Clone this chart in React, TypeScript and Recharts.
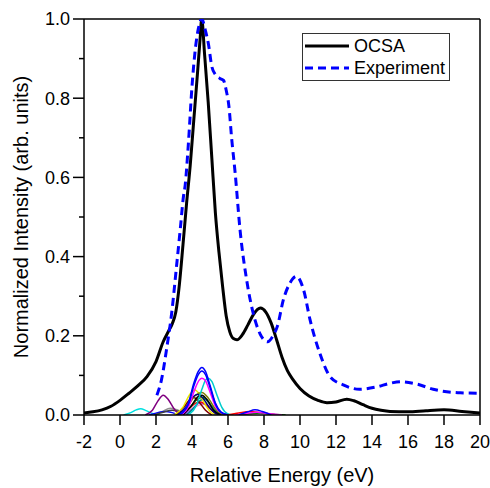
import React from 'react';
import { LineChart, Line, XAxis, YAxis, Legend, ReferenceLine } from 'recharts';

type Pt = [number, number];

// OCSA total spectrum (energy in eV, normalized intensity)
const OCSA: Pt[] = [
  [-2, 0.005], [-1.5, 0.008], [-1, 0.013], [-0.5, 0.022], [0, 0.037], [0.5, 0.055],
  [1, 0.074], [1.5, 0.097], [2, 0.135], [2.4, 0.185], [2.7, 0.212], [2.9, 0.23],
  [3.1, 0.26], [3.3, 0.33], [3.5, 0.43], [3.7, 0.535], [3.9, 0.63], [4.1, 0.745],
  [4.3, 0.86], [4.45, 0.95], [4.54, 1.0], [4.7, 0.91], [4.9, 0.79], [5.1, 0.65],
  [5.3, 0.51], [5.5, 0.41], [5.7, 0.325], [5.9, 0.25], [6.1, 0.21], [6.3, 0.193],
  [6.5, 0.19], [6.8, 0.203], [7.1, 0.227], [7.4, 0.253], [7.8, 0.27], [8.1, 0.26],
  [8.4, 0.232], [8.7, 0.19], [9.0, 0.146], [9.3, 0.112], [9.6, 0.09], [10, 0.067],
  [10.5, 0.048], [11, 0.037], [11.5, 0.031], [12, 0.033], [12.6, 0.04], [13, 0.036],
  [13.5, 0.026], [14, 0.017], [14.5, 0.012], [15, 0.009], [16, 0.008], [17, 0.011],
  [18, 0.013], [19, 0.009], [20, 0.005],
];

// measured spectrum
const EXPERIMENT: Pt[] = [
  [2.05, 0.05], [2.3, 0.088], [2.6, 0.17], [2.87, 0.257], [3.15, 0.38], [3.35, 0.47],
  [3.52, 0.55], [3.62, 0.58], [3.8, 0.686], [4.0, 0.83], [4.2, 0.93], [4.35, 0.975],
  [4.54, 1.0], [4.75, 0.97], [4.92, 0.935], [5.1, 0.88], [5.3, 0.86], [5.55, 0.85],
  [5.75, 0.845], [5.9, 0.82], [6.05, 0.78], [6.2, 0.7], [6.4, 0.61], [6.67, 0.467],
  [7.04, 0.34], [7.4, 0.257], [7.78, 0.205], [8.2, 0.185], [8.5, 0.2], [8.75, 0.225],
  [9.07, 0.29], [9.44, 0.333], [9.8, 0.35], [10.2, 0.316], [10.56, 0.24], [11.1, 0.156],
  [11.67, 0.097], [12.4, 0.076], [13.3, 0.065], [14.26, 0.071], [15, 0.08], [15.6, 0.084],
  [16.5, 0.078], [17.4, 0.065], [18.9, 0.056], [20, 0.055],
];

// individual transition components
const C_BLUE_A: Pt[] = [[3.3, 0], [3.8, 0.03], [4.1, 0.08], [4.35, 0.11], [4.55, 0.12], [4.75, 0.11], [5.0, 0.075], [5.3, 0.03], [5.6, 0.008], [6.0, 0]];
const C_BLUE_B: Pt[] = [[3.3, 0], [3.8, 0.027], [4.1, 0.073], [4.35, 0.102], [4.55, 0.111], [4.75, 0.102], [5.0, 0.07], [5.3, 0.028], [5.6, 0.007], [6.0, 0]];
const C_MAGENTA: Pt[] = [[3.4, 0], [3.85, 0.025], [4.15, 0.064], [4.4, 0.088], [4.55, 0.093], [4.75, 0.086], [5.0, 0.058], [5.3, 0.022], [5.7, 0.004], [6.0, 0]];
const C_CYAN: Pt[] = [[3.8, 0], [4.25, 0.025], [4.55, 0.065], [4.75, 0.088], [4.9, 0.093], [5.1, 0.085], [5.35, 0.055], [5.65, 0.02], [5.95, 0.004], [6.3, 0]];
const C_YELLOW: Pt[] = [[3.0, 0], [3.5, 0.02], [3.85, 0.05], [4.15, 0.063], [4.45, 0.05], [4.75, 0.025], [5.1, 0.005], [5.4, 0]];
const C_OLIVE: Pt[] = [[3.3, 0], [3.8, 0.025], [4.2, 0.05], [4.55, 0.057], [4.9, 0.043], [5.25, 0.018], [5.6, 0.003], [5.9, 0]];
const C_NAVY: Pt[] = [[3.2, 0], [3.7, 0.022], [4.0, 0.043], [4.3, 0.052], [4.6, 0.043], [4.95, 0.02], [5.3, 0.004], [5.6, 0]];
const C_DARKRED: Pt[] = [[3.1, 0], [3.55, 0.02], [3.9, 0.04], [4.1, 0.044], [4.4, 0.032], [4.75, 0.012], [5.1, 0]];
const C_GREEN: Pt[] = [[3.4, 0], [3.9, 0.02], [4.3, 0.04], [4.6, 0.045], [4.9, 0.033], [5.25, 0.012], [5.6, 0]];
const C_RED: Pt[] = [[3.3, 0], [3.8, 0.015], [4.2, 0.03], [4.5, 0.033], [4.85, 0.022], [5.2, 0.008], [5.6, 0]];
const C_BLACK: Pt[] = [[3.5, 0], [3.95, 0.022], [4.3, 0.045], [4.55, 0.05], [4.85, 0.038], [5.2, 0.012], [5.6, 0]];
const C_TEAL: Pt[] = [[3.7, 0], [4.15, 0.02], [4.5, 0.038], [4.75, 0.04], [5.05, 0.025], [5.4, 0.006], [5.8, 0]];
const C_PINK: Pt[] = [[3.4, 0], [3.9, 0.012], [4.4, 0.025], [4.8, 0.027], [5.2, 0.016], [5.7, 0.004], [6.2, 0]];
const C_VIOLET: Pt[] = [[3.5, 0], [4.0, 0.015], [4.4, 0.03], [4.7, 0.028], [5.1, 0.012], [5.5, 0]];
const C_PURPLE: Pt[] = [[1.4, 0], [1.8, 0.012], [2.1, 0.035], [2.4, 0.05], [2.7, 0.038], [3.0, 0.016], [3.3, 0.003], [3.6, 0]];
const C_CYAN_LOW: Pt[] = [[0.2, 0], [0.6, 0.006], [0.9, 0.013], [1.15, 0.016], [1.45, 0.011], [1.8, 0.004], [2.2, 0]];
const C_GRAY: Pt[] = [[1.8, 0], [2.3, 0.008], [2.8, 0.017], [3.2, 0.013], [3.6, 0.004], [4.0, 0]];
const C_BLUE_LOW: Pt[] = [[1.6, 0], [2.1, 0.006], [2.5, 0.009], [2.9, 0.006], [3.3, 0]];
const C_BLACK_LOW: Pt[] = [[1.9, 0], [2.4, 0.007], [2.9, 0.012], [3.4, 0.008], [3.9, 0]];
const C_BLUE_HIGH: Pt[] = [[6.6, 0], [7.1, 0.008], [7.5, 0.013], [7.9, 0.009], [8.4, 0]];
const C_RED_HIGH: Pt[] = [[6.0, 0], [6.6, 0.005], [7.2, 0.009], [7.8, 0.006], [8.4, 0.002], [9.0, 0]];
const C_MAGENTA_HIGH: Pt[] = [[6.4, 0], [7.0, 0.004], [7.6, 0.007], [8.2, 0.004], [9.0, 0]];
const C_GREEN_HIGH: Pt[] = [[6.5, 0], [7.2, 0.003], [7.8, 0.005], [8.5, 0.002], [9.2, 0]];

const COMPONENTS: { pts: Pt[]; color: string }[] = [
  { pts: C_CYAN_LOW, color: '#00e0e0' },
  { pts: C_GRAY, color: '#909090' },
  { pts: C_BLUE_LOW, color: '#0000ff' },
  { pts: C_BLACK_LOW, color: '#404040' },
  { pts: C_PURPLE, color: '#800080' },
  { pts: C_PINK, color: '#ff99cc' },
  { pts: C_VIOLET, color: '#9966ff' },
  { pts: C_RED, color: '#ff0000' },
  { pts: C_GREEN, color: '#008000' },
  { pts: C_TEAL, color: '#008080' },
  { pts: C_DARKRED, color: '#800000' },
  { pts: C_YELLOW, color: '#e6e600' },
  { pts: C_OLIVE, color: '#808000' },
  { pts: C_NAVY, color: '#000080' },
  { pts: C_BLACK, color: '#000000' },
  { pts: C_CYAN, color: '#00cccc' },
  { pts: C_MAGENTA, color: '#ff00ff' },
  { pts: C_BLUE_B, color: '#0000ff' },
  { pts: C_BLUE_A, color: '#0000ff' },
  { pts: C_RED_HIGH, color: '#ff0000' },
  { pts: C_GREEN_HIGH, color: '#008000' },
  { pts: C_MAGENTA_HIGH, color: '#ff00ff' },
  { pts: C_BLUE_HIGH, color: '#0000ff' },
];

const X_TICKS = [-2, 0, 2, 4, 6, 8, 10, 12, 14, 16, 18, 20];
const Y_TICKS = [0, 0.1, 0.2, 0.3, 0.4, 0.5, 0.6, 0.7, 0.8, 0.9, 1.0];
const LEGEND_ORDER = ['OCSA', 'Experiment'];

const FONT = 'Arial, "Liberation Sans", sans-serif';
const PLOT_LEFT = 84;

const toRows = (pts: Pt[]) => pts.map(([x, y]) => ({ x, y }));

const YTick = (props: any) => {
  const { y, payload } = props;
  const v = payload.value as number;
  const major = Math.round(v * 10) % 2 === 0;
  return (
    <g>
      <line x1={PLOT_LEFT - (major ? 11 : 5)} x2={PLOT_LEFT} y1={y} y2={y} stroke="#000" strokeWidth={1.5} />
      {major && (
        <text x={PLOT_LEFT - 14} y={y} dy="0.35em" textAnchor="end" fontSize={18} fontFamily={FONT} fill="#000">
          {v.toFixed(1)}
        </text>
      )}
    </g>
  );
};

const LegendBox = (props: any) => {
  const items = (props.payload || [])
    .filter((p: any) => LEGEND_ORDER.includes(p.value))
    .sort((a: any, b: any) => LEGEND_ORDER.indexOf(a.value) - LEGEND_ORDER.indexOf(b.value));
  return (
    <div
      style={{
        border: '1px solid #333',
        background: '#fff',
        padding: '1px 4px 1px 2px',
        fontFamily: FONT,
        fontSize: 18,
        lineHeight: '22px',
      }}
    >
      {items.map((it: any) => (
        <div key={it.value} style={{ display: 'flex', alignItems: 'center' }}>
          <svg width={44} height={10} style={{ marginRight: 5 }}>
            <line
              x1={0}
              x2={44}
              y1={5}
              y2={5}
              stroke={it.color}
              strokeWidth={3}
              strokeDasharray={it.payload?.strokeDasharray}
            />
          </svg>
          <span style={{ color: '#000' }}>{it.value}</span>
        </div>
      ))}
    </div>
  );
};

export default function App() {
  return (
    <div style={{ position: 'absolute', left: 0, top: 0, width: 490, height: 488, background: '#fff' }}>
      <LineChart width={490} height={488} margin={{ top: 19, right: 10, bottom: 13, left: 0 }}>
        <XAxis
          type="number"
          dataKey="x"
          domain={[-2, 20]}
          ticks={X_TICKS}
          allowDataOverflow
          height={60}
          tickSize={10}
          tickMargin={10}
          tick={{ fontSize: 18, fill: '#000', fontFamily: FONT }}
          axisLine={{ stroke: '#000', strokeWidth: 1.5 }}
          tickLine={{ stroke: '#000', strokeWidth: 1.5 }}
          label={{ value: 'Relative Energy (eV)', position: 'insideBottom', offset: -7, fontSize: 20, fill: '#000', fontFamily: FONT }}
        />
        <YAxis
          type="number"
          domain={[0, 1]}
          ticks={Y_TICKS}
          allowDataOverflow
          width={PLOT_LEFT}
          tickLine={false}
          tick={<YTick />}
          axisLine={{ stroke: '#000', strokeWidth: 1.5 }}
          label={{ value: 'Normalized Intensity (arb. units)', angle: -90, position: 'insideLeft', offset: 21, fontSize: 20, fill: '#000', fontFamily: FONT, style: { textAnchor: 'middle' } }}
        />
        <ReferenceLine y={1} stroke="#000" strokeWidth={1.5} />
        <ReferenceLine x={20} stroke="#000" strokeWidth={1.5} />
        {COMPONENTS.map((c, i) => (
          <Line
            key={i}
            data={toRows(c.pts)}
            dataKey="y"
            type="monotone"
            stroke={c.color}
            strokeWidth={1.5}
            dot={false}
            legendType="none"
            isAnimationActive={false}
          />
        ))}
        <Line
          data={toRows(OCSA)}
          dataKey="y"
          name="OCSA"
          type="monotone"
          stroke="#000"
          strokeWidth={3}
          dot={false}
          isAnimationActive={false}
        />
        <Line
          data={toRows(EXPERIMENT)}
          dataKey="y"
          name="Experiment"
          type="monotone"
          stroke="#0000ff"
          strokeWidth={3}
          strokeDasharray="8 5"
          dot={false}
          isAnimationActive={false}
        />
        <Legend
          layout="horizontal"
          verticalAlign="middle"
          align="center"
          content={<LegendBox />}
          wrapperStyle={{ top: 33, left: 302, width: 'auto', height: 'auto' }}
        />
      </LineChart>
    </div>
  );
}
